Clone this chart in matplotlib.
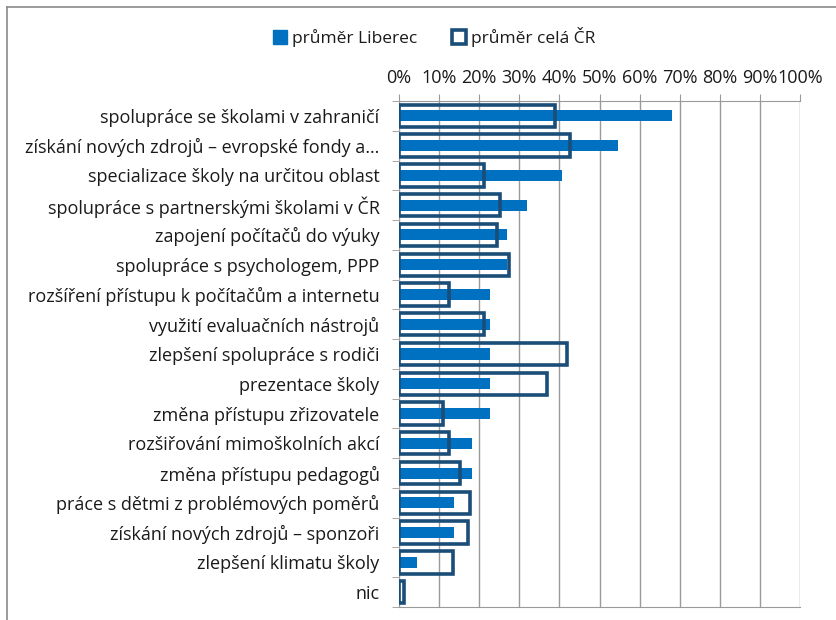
import matplotlib.pyplot as plt
from matplotlib.lines import Line2D
from matplotlib.patches import Patch
from matplotlib.ticker import FixedLocator, PercentFormatter
import numpy as np

plt.rcParams['font.family'] = ['Open Sans', 'DejaVu Sans']

# Data (share of schools, %)
categories = [
    'spolupráce se školami v zahraničí',
    'získání nových zdrojů – evropské fondy a…',
    'specializace školy na určitou oblast',
    'spolupráce s partnerskými školami v ČR',
    'zapojení počítačů do výuky',
    'spolupráce s psychologem, PPP',
    'rozšíření přístupu k počítačům a internetu',
    'využití evaluačních nástrojů',
    'zlepšení spolupráce s rodiči',
    'prezentace školy',
    'změna přístupu zřizovatele',
    'rozšiřování mimoškolních akcí',
    'změna přístupu pedagogů',
    'práce s dětmi z problémových poměrů',
    'získání nových zdrojů – sponzoři',
    'zlepšení klimatu školy',
    'nic',
]
liberec = [68.2, 54.5, 40.7, 31.8, 27.0, 27.0, 22.7, 22.7, 22.7, 22.7, 22.7,
           18.2, 18.2, 13.6, 13.6, 4.5, 0.0]
cr = [38.8, 42.7, 21.2, 25.2, 24.5, 27.4, 12.4, 21.2, 41.8, 36.9, 11.0,
      12.4, 15.1, 17.6, 17.3, 13.5, 1.3]

blue = '#0070c0'
dark = '#1a4d78'
grid_col = '#9a9a9a'
text_col = '#1a1a1a'

fig = plt.figure(figsize=(8.36, 6.20), dpi=100)
ax = fig.add_axes([399 / 836, 1 - 607 / 620, 401 / 836, 506 / 620])

y = np.arange(len(categories))
ax.barh(y, liberec, height=0.37, color=blue, zorder=2)
ax.barh(y, cr, height=0.75, facecolor='none', edgecolor=dark,
        linewidth=2.6, zorder=3)

ax.set_xlim(0, 100)
ax.set_ylim(len(categories) - 0.5, -0.5)
ax.xaxis.tick_top()
ax.set_xticks(np.arange(0, 101, 10))
ax.xaxis.set_major_formatter(PercentFormatter(decimals=0))
ax.tick_params(axis='x', length=5, color=grid_col, labelsize=13,
               labelcolor=text_col, pad=5)

ax.set_yticks(y)
ax.set_yticklabels(categories, fontsize=13, color=text_col)
ax.tick_params(axis='y', which='major', length=0, pad=14)
ax.yaxis.set_minor_locator(FixedLocator(np.arange(-0.5, len(categories), 1)))
ax.tick_params(axis='y', which='minor', length=5, color=grid_col)

ax.grid(axis='x', color=grid_col, linewidth=1.0, zorder=0)
ax.set_axisbelow(True)
for side in ['top', 'left', 'bottom']:
    ax.spines[side].set_color(grid_col)
ax.spines['right'].set_visible(False)

# outer chart frame (only top and left edges fall inside the image)
fig.add_artist(Line2D([7 / 836, 1], [1 - 7 / 620] * 2, color='#8a8a8a', linewidth=1.2))
fig.add_artist(Line2D([7 / 836] * 2, [0, 1 - 7 / 620], color='#8a8a8a', linewidth=1.2))

handles = [Patch(facecolor=blue, edgecolor=blue),
           Patch(facecolor='white', edgecolor=dark, linewidth=2.6)]
fig.legend(handles, ['průměr Liberec', 'průměr celá ČR'], loc='center',
           bbox_to_anchor=(434 / 836, 1 - 37 / 620), ncol=2, frameon=False,
           fontsize=12.5, handlelength=0.8, handleheight=0.8,
           handletextpad=0.3, columnspacing=2.0, labelcolor=text_col)

fig.savefig('out.png', dpi=100)
